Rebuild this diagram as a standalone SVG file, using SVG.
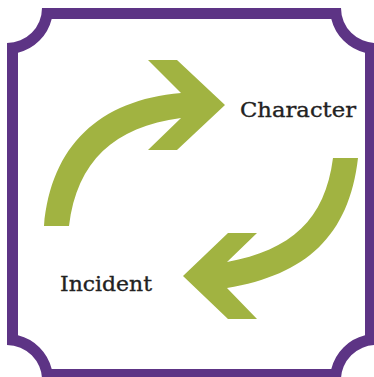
<svg xmlns="http://www.w3.org/2000/svg" width="374" height="377" viewBox="0 0 374 377">
<style>
.frame{fill:#5d3485;fill-rule:evenodd}
.arrow{fill:#a1b341}
.label{font-family:"DejaVu Serif","Liberation Serif",serif;font-size:21px;fill:#222;stroke:#222;stroke-width:0.35}
</style>
<rect width="374" height="377" fill="#fff"/>
<g id="frame">
<path class="frame" d="M42,8 H341 A35 35 0 0 0 376,43 V345 A35 35 0 0 0 341,380 H42 A35 35 0 0 0 7,345 V43 A35 35 0 0 0 42,8 Z M51.7,19 H331.3 A46 46 0 0 0 365,52.7 V335.3 A46 46 0 0 0 331.3,369 H51.7 A46 46 0 0 0 18,335.3 V52.7 A46 46 0 0 0 51.7,19 Z"/>
</g>
<g id="connectors">
<path id="arrow-top" class="arrow" d="M148,60 L177,60 L225,105 L177,150 L148,150 L181,118 C114,127 77,161 69,226 L44,226 C51,146 99,100 181,93 Z"/>
<path id="arrow-bottom" class="arrow" d="M333,158 L358,158 C349,236 306,275 227,288 L257,319 L228,319 L183,276 L228,233 L257,233 L227,262 C291,250 325,220 333,158 Z"/>
</g>
<g id="node-character">
<text class="label" x="240" y="117" textLength="116" lengthAdjust="spacingAndGlyphs">Character</text>
</g>
<g id="node-incident">
<text class="label" x="60" y="291" textLength="92" lengthAdjust="spacingAndGlyphs">Incident</text>
</g>
</svg>
